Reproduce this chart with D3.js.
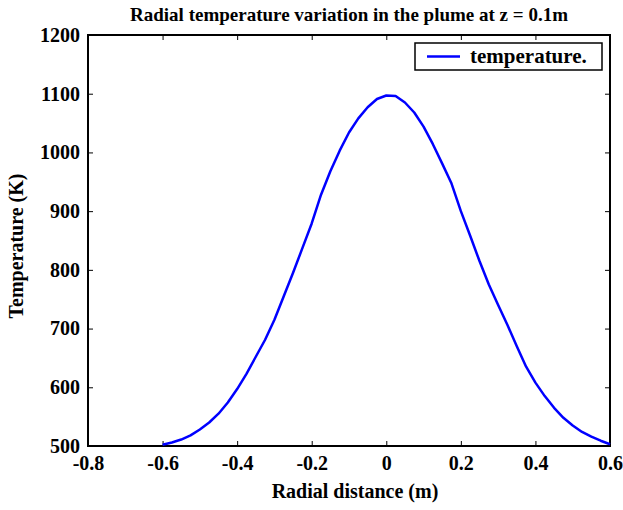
<!DOCTYPE html>
<html>
<head>
<meta charset="utf-8">
<script src="https://cdn.jsdelivr.net/npm/d3@7"></script>
<style>
  body { margin: 0; background: #fff; }
  text { font-family: "Liberation Serif", "Times New Roman", serif; font-weight: bold; fill: #000; }
</style>
</head>
<body>
<svg width="623" height="510"></svg>
<script>
// radial distance (m) and temperature (K)
var radius = [-0.6, -0.575, -0.55, -0.525, -0.5, -0.475, -0.45, -0.425, -0.4, -0.375,
  -0.35, -0.325, -0.3, -0.275, -0.25, -0.225, -0.2, -0.175, -0.15, -0.125,
  -0.1, -0.075, -0.05, -0.025, 0, 0.025, 0.05, 0.075, 0.1, 0.125,
  0.15, 0.175, 0.2, 0.225, 0.25, 0.275, 0.3, 0.325, 0.35, 0.375,
  0.4, 0.425, 0.45, 0.475, 0.5, 0.525, 0.55, 0.575, 0.6]
var temperature = [502, 506, 511, 518, 528, 540, 555, 574, 597, 623,
  652, 681, 715, 755, 795, 837, 879, 928, 968, 1003,
  1034, 1058, 1077, 1091, 1097, 1096, 1085, 1068, 1044, 1014,
  981, 947, 900, 858, 815, 775, 740, 706, 670, 635,
  608, 585, 565, 548, 535, 524, 516, 509, 503]
var xTicks = [-0.8, -0.6, -0.4, -0.2, 0, 0.2, 0.4, 0.6]
var yTicks = [500, 600, 700, 800, 900, 1000, 1100, 1200]

var svg = d3.select("svg")
var m = {left: 88, right: 610, top: 35, bottom: 446}

var x = d3.scaleLinear().domain([-0.8, 0.6]).range([m.left, m.right])
var y = d3.scaleLinear().domain([500, 1200]).range([m.bottom, m.top])

// plain hyphen minus, like the original
function fmt(d) { return d === 0 ? "0" : d.toFixed(1) }

// ticks point inward on all four sides
svg.append("g").attr("transform", "translate(0," + m.bottom + ")")
  .call(d3.axisBottom(x).tickValues(xTicks).tickSizeInner(-5).tickSizeOuter(0).tickPadding(10).tickFormat(fmt))
svg.append("g").attr("transform", "translate(0," + m.top + ")")
  .call(d3.axisTop(x).tickValues(xTicks).tickSizeInner(-5).tickSizeOuter(0).tickFormat(""))
svg.append("g").attr("transform", "translate(" + m.left + ",0)")
  .call(d3.axisLeft(y).tickValues(yTicks).tickSizeInner(-5).tickSizeOuter(0).tickPadding(8).tickFormat(String))
svg.append("g").attr("transform", "translate(" + m.right + ",0)")
  .call(d3.axisRight(y).tickValues(yTicks).tickSizeInner(-5).tickSizeOuter(0).tickFormat(""))

svg.selectAll(".domain").remove()
svg.selectAll(".tick line").attr("stroke", "#000").attr("stroke-width", 1)
svg.selectAll(".tick text").style("font-size", "20px").style("font-family", "Liberation Serif").style("font-weight", "bold")

svg.append("rect")
  .attr("x", m.left).attr("y", m.top)
  .attr("width", m.right - m.left).attr("height", m.bottom - m.top)
  .attr("fill", "none").attr("stroke", "#000").attr("stroke-width", 2)

var pts = radius.map(function(r, i) { return [r, temperature[i]] })
svg.append("path")
  .datum(pts)
  .attr("fill", "none")
  .attr("stroke", "#0000ff")
  .attr("stroke-width", 2.5)
  .attr("stroke-linejoin", "round")
  .attr("d", d3.line().x(function(d) { return x(d[0]) }).y(function(d) { return y(d[1]) }))

// legend
var lg = svg.append("g")
lg.append("rect").attr("x", 415).attr("y", 43).attr("width", 187).attr("height", 27)
  .attr("fill", "#fff").attr("stroke", "#000").attr("stroke-width", 1.5)
lg.append("line").attr("x1", 427).attr("x2", 460).attr("y1", 56.5).attr("y2", 56.5)
  .attr("stroke", "#0000ff").attr("stroke-width", 2.5)
lg.append("text").attr("x", 470).attr("y", 63).style("font-size", "21px").text("temperature.")

svg.append("text").attr("x", (m.left + m.right) / 2).attr("y", 21)
  .attr("text-anchor", "middle").style("font-size", "19px")
  .text("Radial temperature variation in the plume at z = 0.1m")
svg.append("text").attr("x", 355).attr("y", 498)
  .attr("text-anchor", "middle").style("font-size", "20px")
  .text("Radial distance (m)")
svg.append("text").attr("transform", "translate(23," + 246 + ") rotate(-90)")
  .attr("text-anchor", "middle").style("font-size", "20px")
  .text("Temperature (K)")
</script>
</body>
</html>
